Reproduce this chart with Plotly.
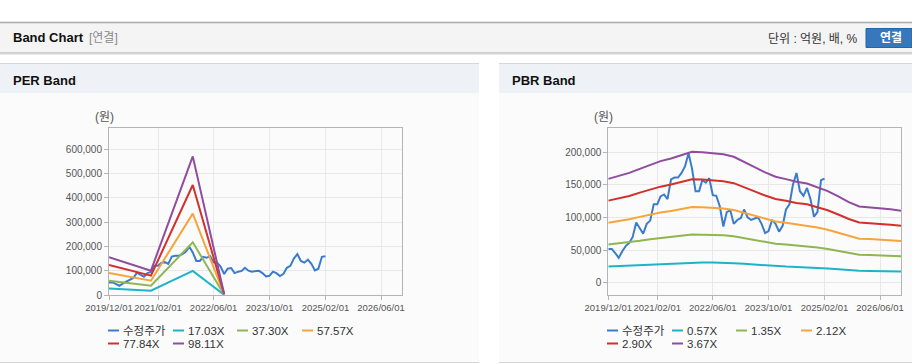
import plotly.graph_objects as go
import pandas as pd

W, H = 912, 364

# ---------------- data ----------------
price = [51700, 51700, 45000, 38000, 48000, 56000, 61000, 70000, 92000, 84000,
         75000, 90000, 95000, 120000, 120000, 132000, 135000, 128000, 158000, 161000,
         161000, 168000, 178000, 198000, 175000, 140000, 140000, 157000, 153000, 160000,
         134000, 133000, 117000, 86000, 108000, 111000, 90000, 96000, 99000, 112000,
         100000, 96000, 98000, 100000, 90000, 76000, 79000, 96000, 90000, 78000,
         87000, 112000, 120000, 150000, 168000, 140000, 133000, 145000, 128000, 101000,
         108000, 157000, 159000]
price_dates = pd.date_range("2019-12-01", periods=len(price), freq="MS")

per_dates = ["2019-12-01", "2020-12-01", "2021-12-01", "2022-09-01"]
per_names = ["17.03X", "37.30X", "57.57X", "77.84X", "98.11X"]
per_1703 = [26900, 17400, 98900, 700]
per_3730 = [58900, 38000, 216700, 1500]
per_5757 = [91000, 58700, 334500, 2300]
per_7784 = [123000, 79400, 452300, 3100]
per_9811 = [155000, 100100, 570000, 3900]

pbr_dates = pd.date_range("2019-12-01", periods=29, freq="3MS")
pbr_names = ["0.57X", "1.35X", "2.12X", "2.90X", "3.67X"]
pbr_057 = [24700, 25400, 26100, 27100, 28000, 28900, 29500, 30300, 31100, 31000,
           30800, 30600, 29900, 28800, 27500, 26200, 25200, 24600, 24000, 23600,
           22700, 21800, 20500, 19200, 18100, 18000, 17700, 17400, 17100]
pbr_135 = [58500, 60100, 61800, 64100, 66400, 68400, 69900, 71800, 73700, 73400,
           73000, 72400, 70900, 68200, 65100, 62100, 59700, 58300, 56800, 55900,
           53700, 51600, 48600, 45400, 42900, 42500, 42000, 41300, 40500]
pbr_212 = [91800, 94300, 97100, 100700, 104300, 107500, 109800, 112800, 115800, 115300,
           114700, 113600, 111300, 107100, 102200, 97500, 93700, 91600, 89300, 87800,
           84400, 81000, 76300, 71200, 67400, 66800, 65900, 64900, 63600]
pbr_290 = [125600, 129100, 132800, 137800, 142700, 147000, 150200, 154300, 158300, 157800,
           156900, 155400, 152300, 146500, 139800, 133400, 128200, 125300, 122100, 120100,
           115400, 110800, 104400, 97400, 92200, 91400, 90200, 88700, 87000]
pbr_367 = [158900, 163300, 168100, 174300, 180600, 186100, 190100, 195200, 200400, 199700,
           198600, 196700, 192700, 185300, 176900, 168800, 162200, 158500, 154500, 151900,
           146100, 140200, 132100, 123300, 116700, 115600, 114100, 112300, 110100]

x_tickvals = ["2019-12-01", "2021-02-01", "2022-06-01", "2023-10-01", "2025-02-01", "2026-06-01"]
x_ticktext = ["2019/12/01", "2021/02/01", "2022/06/01", "2023/10/01", "2025/02/01", "2026/06/01"]
per_yticks = [0, 100000, 200000, 300000, 400000, 500000, 600000]
pbr_yticks = [0, 50000, 100000, 150000, 200000]

price_name = "수정주가"
colors = ["#3a7ccb", "#1db4c8", "#8fb651", "#f5a53b", "#d2302b", "#904c9e"]

# ---------------- helpers ----------------
def px(x):
    return x / W

def py(y):
    return 1 - y / H

FONT = "Liberation Sans, Arial, Noto Sans CJK KR, sans-serif"

fig = go.Figure()

# PER traces
fig.add_trace(go.Scatter(x=price_dates, y=price, mode="lines", name=price_name,
                         line=dict(color=colors[0], width=2), xaxis="x", yaxis="y"))
for nm, vals, c in zip(per_names, [per_1703, per_3730, per_5757, per_7784, per_9811], colors[1:]):
    fig.add_trace(go.Scatter(x=per_dates, y=vals, mode="lines", name=nm,
                             line=dict(color=c, width=2), xaxis="x", yaxis="y"))
# PBR traces
fig.add_trace(go.Scatter(x=price_dates, y=price, mode="lines", name=price_name,
                         line=dict(color=colors[0], width=2), xaxis="x2", yaxis="y2"))
for nm, vals, c in zip(pbr_names, [pbr_057, pbr_135, pbr_212, pbr_290, pbr_367], colors[1:]):
    fig.add_trace(go.Scatter(x=pbr_dates, y=vals, mode="lines", name=nm,
                             line=dict(color=c, width=2), xaxis="x2", yaxis="y2"))

axis_common = dict(showgrid=True, gridcolor="#e8e8e8", gridwidth=1, showline=True, mirror=True,
                   linecolor="#b4b4b4", linewidth=1, ticks="outside", ticklen=4,
                   tickcolor="#b4b4b4", tickfont=dict(family=FONT, size=10, color="#555555"),
                   zeroline=False, fixedrange=True, automargin=False)

xcommon = dict(axis_common, type="date", range=["2019-12-01", "2026-12-01"],
               tickvals=x_tickvals, ticktext=x_ticktext, tickangle=0,
               tickfont=dict(family=FONT, size=9.5, color="#555555"))

ydom = [py(295), py(128)]
fig.update_layout(
    width=W, height=H, autosize=False, margin=dict(l=0, r=0, t=0, b=0, pad=0),
    paper_bgcolor="white", plot_bgcolor="white", showlegend=False,
    xaxis=dict(xcommon, domain=[px(109), px(402)], anchor="y"),
    yaxis=dict(axis_common, domain=ydom, anchor="x", range=[0, 686600],
               tickvals=per_yticks, tickformat=",d"),
    xaxis2=dict(xcommon, domain=[px(608.3), px(901)], anchor="y2"),
    yaxis2=dict(axis_common, domain=ydom, anchor="x2", range=[-18900, 236800],
                tickvals=pbr_yticks, tickformat=",d"),
    font=dict(family=FONT),
)

shapes = []
def rect(x0, y0, x1, y1, fill, line=None):
    shapes.append(dict(type="rect", xref="paper", yref="paper", x0=px(x0), x1=px(x1),
                       y0=py(y1), y1=py(y0), fillcolor=fill, layer="below",
                       line=dict(width=0) if line is None else line))

def hline(x0, x1, y, color, width=1, layer="below"):
    shapes.append(dict(type="line", xref="paper", yref="paper", x0=px(x0), x1=px(x1),
                       y0=py(y), y1=py(y), line=dict(color=color, width=width), layer=layer))

# header bar
rect(0, 22, 912, 53, "#f4f4f4")
hline(0, 912, 22.5, "#a8a8a8", 1.5)
hline(0, 912, 53, "#c4c4c4", 1.5)
hline(0, 912, 54.5, "#e8e8e8", 1)
# panels
for (a, b) in [(0, 479), (499, 912)]:
    rect(a, 64, b, 93, "#eef1f5")
    rect(a, 93, b, 362, "#fbfbfb")
    hline(a, b, 63.5, "#d6d6d6", 1)
    hline(a, b, 362.5, "#d6d6d6", 1)
# button
shapes.append(dict(type="rect", xref="paper", yref="paper", x0=px(866), x1=px(912),
                   y0=py(47.5), y1=py(28.5), fillcolor="#3677bd",
                   line=dict(color="#2a64a3", width=1), layer="above"))

# legend line samples
def leg_line(x, y, c):
    shapes.append(dict(type="line", xref="paper", yref="paper", x0=px(x), x1=px(x + 11),
                       y0=py(y), y1=py(y), line=dict(color=c, width=2), layer="above"))

ann = []
def text(x, y, s, size=11, color="#333333", bold=False, anchor="left", fam=FONT):
    ann.append(dict(xref="paper", yref="paper", x=px(x), y=py(y), text=("<b>%s</b>" % s) if bold else s,
                    showarrow=False, xanchor=anchor, yanchor="middle",
                    font=dict(family=fam, size=size, color=color)))

text(11, 38, "Band Chart", 13, "#111111", True)
text(87, 38, "[연결]", 12, "#8a8a8a")
text(860, 39, "단위 : 억원, 배, %", 12, "#333333", anchor="right")
text(891, 38, "연결", 12, "#ffffff", True, anchor="center")
text(11, 80, "PER Band", 13, "#111111", True)
text(510, 80, "PBR Band", 13, "#111111", True)
text(104, 117, "(원)", 12, "#555555", anchor="center")
text(603, 117, "(원)", 12, "#555555", anchor="center")

per_leg = [price_name] + per_names
pbr_leg = [price_name] + pbr_names
slots = [(108, 330.5), (173, 330.5), (237, 330.5), (302, 330.5), (108, 343.5), (173, 343.5)]
for i, (lab, c) in enumerate(zip(per_leg, colors)):
    x, y = slots[i]
    leg_line(x, y, c)
    text(x + 13, y, lab, 11.5, "#333333")
for i, (lab, c) in enumerate(zip(pbr_leg, colors)):
    x, y = slots[i]
    x += 499
    leg_line(x, y, c)
    text(x + 13, y, lab, 11.5, "#333333")

fig.update_layout(shapes=shapes, annotations=ann)
fig.write_html("out.html", config={"displayModeBar": False, "responsive": False},
               post_script="document.documentElement.style.margin='0';document.body.style.margin='0';"
                           "document.body.style.padding='0';document.body.style.overflow='hidden';")
